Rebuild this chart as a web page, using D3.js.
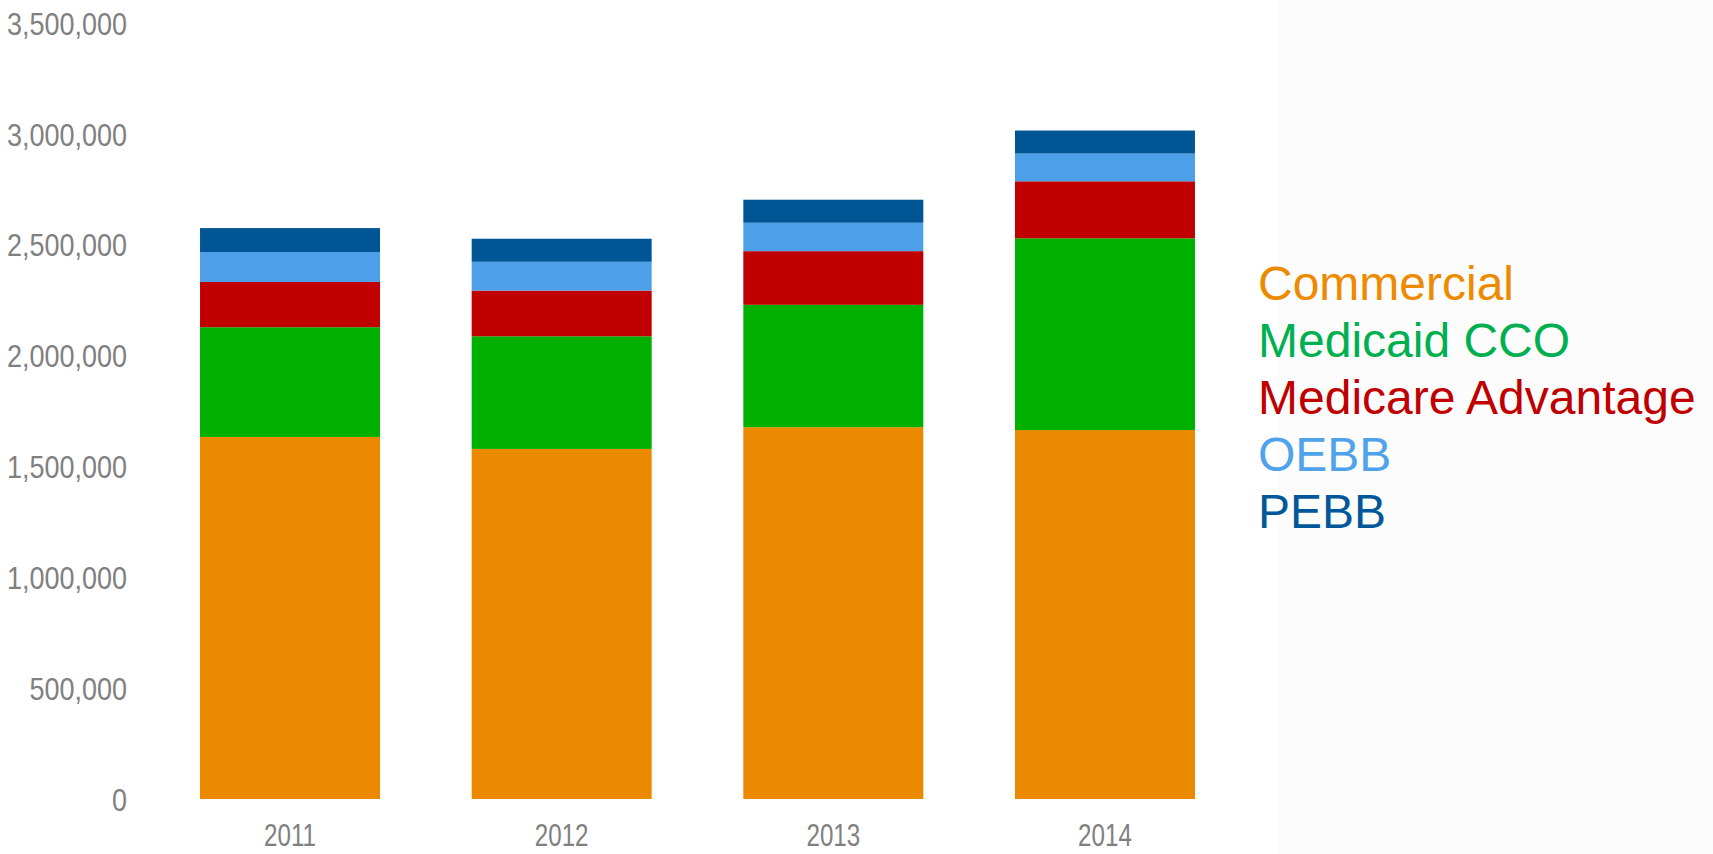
<!DOCTYPE html>
<html>
<head>
<meta charset="utf-8">
<script src="https://cdn.jsdelivr.net/npm/d3@7"></script>
<style>
  html, body { margin: 0; padding: 0; background: #ffffff; }
  svg { display: block; font-family: "Liberation Sans", Arial, sans-serif; }
</style>
</head>
<body>
<svg id="chart" width="1713" height="854"></svg>
<script>
// Enrollment by market segment, 2011–2014
const years = ["2011", "2012", "2013", "2014"];
const seriesNames = ["Commercial", "Medicaid CCO", "Medicare Advantage", "OEBB", "PEBB"];
const commercial = [1633000, 1579000, 1677000, 1664000];
const medicaidCCO = [495000, 508000, 552000, 865000];
const medicareAdvantage = [204000, 206000, 242000, 257000];
const oebb = [135000, 130000, 128000, 125000];
const pebb = [108000, 104000, 104000, 104000];
const yTicks = [0, 500000, 1000000, 1500000, 2000000, 2500000, 3000000, 3500000];

const barColors = ["#eb8900", "#00b000", "#c00000", "#4d9fe7", "#005595"];
const legendColors = ["#ed8b00", "#00b050", "#c00000", "#4fa3ea", "#00589a"];

const table = years.map((y, i) => ({
  year: y,
  "Commercial": commercial[i],
  "Medicaid CCO": medicaidCCO[i],
  "Medicare Advantage": medicareAdvantage[i],
  "OEBB": oebb[i],
  "PEBB": pebb[i]
}));

const svg = d3.select("#chart");

// faint panel behind the legend
svg.append("rect")
  .attr("x", 1278).attr("y", 0)
  .attr("width", 1713 - 1278).attr("height", 854)
  .attr("fill", "#fcfcfc");

const x = d3.scaleBand()
  .domain(years)
  .range([154.2, 1240.8])
  .paddingInner(0.3374)
  .paddingOuter(0.1687);

const y = d3.scaleLinear()
  .domain([0, 3500000])
  .range([799, 23]);

const stacked = d3.stack().keys(seriesNames)(table);

svg.append("g")
  .selectAll("g")
  .data(stacked)
  .join("g")
  .attr("fill", (d, i) => barColors[i])
  .selectAll("rect")
  .data(d => d)
  .join("rect")
  .attr("x", d => x(d.data.year))
  .attr("width", x.bandwidth())
  .attr("y", d => y(d[1]))
  .attr("height", d => y(d[0]) - y(d[1]));

// y axis: labels only
const yAxis = svg.append("g")
  .attr("transform", "translate(127,0)")
  .call(d3.axisLeft(y).tickValues(yTicks).tickFormat(d3.format(",")).tickSize(0).tickPadding(0));
yAxis.select(".domain").remove();
yAxis.selectAll("text")
  .attr("x", 0)
  .attr("dy", "0.36em")
  .attr("transform", "scale(0.87,1)")
  .attr("fill", "#808080")
  .style("font-size", "31px")
  .style("font-family", "'Liberation Sans', Arial, sans-serif");

// x axis: year labels only
const xAxis = svg.append("g")
  .attr("transform", "translate(0,846)")
  .call(d3.axisBottom(x).tickSize(0).tickPadding(0));
xAxis.select(".domain").remove();
xAxis.selectAll("text")
  .attr("y", 0)
  .attr("dy", 0)
  .attr("transform", "scale(0.78,1)")
  .attr("fill", "#808080")
  .style("font-size", "31px")
  .style("font-family", "'Liberation Sans', Arial, sans-serif");

// legend
const legend = svg.append("g").attr("transform", "translate(1258,300)");
legend.selectAll("text")
  .data(seriesNames)
  .join("text")
  .attr("x", 0)
  .attr("y", (d, i) => i * 57)
  .attr("fill", (d, i) => legendColors[i])
  .style("font-size", "48px")
  .text(d => d);
</script>
</body>
</html>
